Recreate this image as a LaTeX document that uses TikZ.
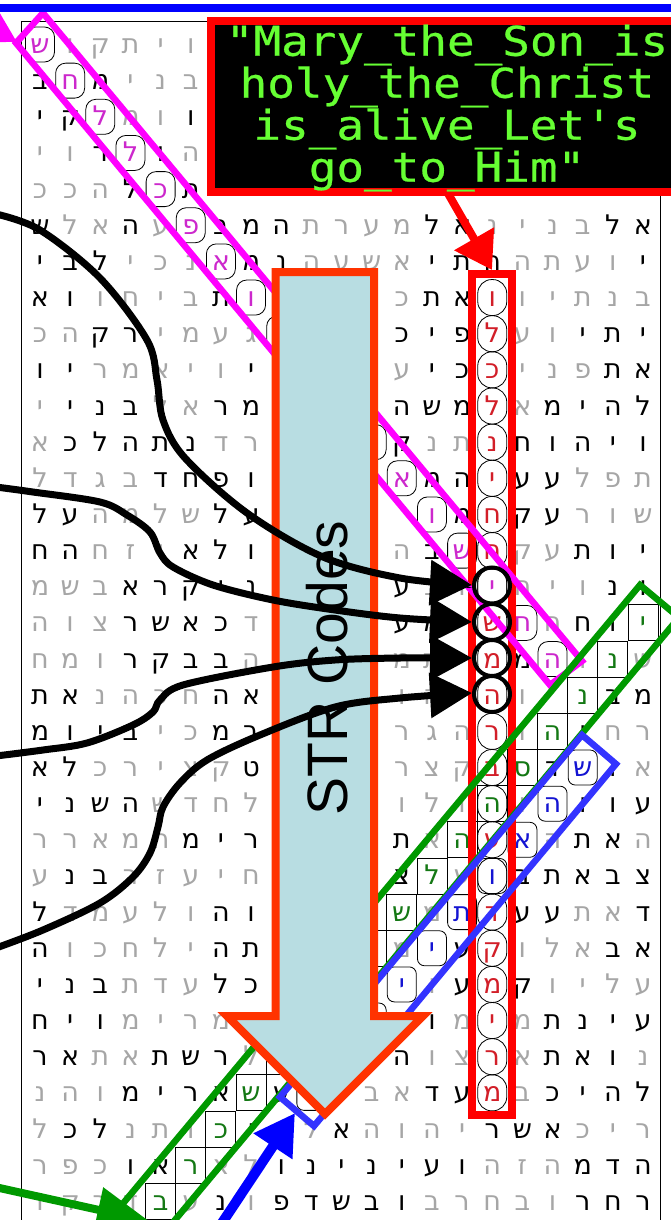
\documentclass[tikz,border=0pt]{standalone}
\usepackage{fontspec}
\usetikzlibrary{arrows.meta}
\newfontfamily\hebfont[Script=Hebrew]{DejaVu Sans}
\newfontfamily\boxfont[FakeBold=0.5]{DejaVu Sans Mono}
\newfontfamily\strfont{Liberation Sans}
\definecolor{wordmag}{RGB}{204,40,204}
\definecolor{wordred}{RGB}{210,30,40}
\definecolor{wordgreen}{RGB}{20,120,20}
\definecolor{wordblue}{RGB}{20,20,210}
\definecolor{rectmag}{RGB}{255,0,255}
\definecolor{rectred}{RGB}{255,0,0}
\definecolor{rectgreen}{RGB}{0,153,0}
\definecolor{rectblue}{RGB}{51,51,255}
\definecolor{arrowblue}{RGB}{0,0,255}
\definecolor{strfill}{RGB}{184,221,226}
\definecolor{strline}{RGB}{255,51,0}
\definecolor{labelgreen}{RGB}{102,255,51}
\newcommand{\D}{\color{black}}
\newcommand{\cM}{\color{wordmag}}
\newcommand{\cR}{\color{wordred}}
\newcommand{\cG}{\color{wordgreen}}
\newcommand{\cB}{\color{wordblue}}
\tikzset{
  letter/.style={font=\hebfont\fontsize{27}{27}\selectfont,text=gray!70,anchor=base,inner sep=0pt,yshift=-9pt},
  magcell/.style={draw=black,line width=0.8pt,rounded corners=10pt,minimum width=29pt,minimum height=35pt,inner sep=0pt},
  ovalcell/.style={draw=black,line width=0.8pt,rounded corners=14pt,minimum width=29pt,minimum height=36pt,inner sep=0pt},
  greencell/.style={draw=black,line width=0.9pt,minimum width=30pt,minimum height=36pt,inner sep=0pt},
  bluecell/.style={draw=black,line width=0.8pt,rounded corners=7pt,minimum width=29pt,minimum height=35pt,inner sep=0pt},
  wordrect/.style={line width=6.5pt,line join=miter},
  blackcurve/.style={line width=7pt,-{Triangle[length=42pt,width=44pt]}},
}
\begin{document}
\begin{tikzpicture}[x=1pt,y=-1pt]
\useasboundingbox (0,0) rectangle (671,1220);
\fill[white] (0,0) rectangle (671,1220);

% frame of the table
\draw[line width=1pt] (21,1220) -- (21,22) -- (671,22);
\draw[line width=1pt] (660,22) -- (660,1220);

% letter table
\begin{scope}[shift={(40pt,-44.5pt)},x=30.15pt,y=-36.15pt]
\foreach \i in {0,...,17}
  \node[magcell] at (\i,\i) {};
\foreach \j in {7,...,29}
  \node[ovalcell] at (15,\j) {};
\foreach \i in {4,...,20}
  \node[greencell] at (\i,36-\i) {};
\foreach \i in {9,...,18}
  \node[bluecell] at (\i,38-\i) {};
\foreach \cells [count=\j from 0] in {
{\cM ש,ו,ק,ת,י,ו},
{\D ב,\cM ח,\D מ,י,נ,ב},
{\D י,\D ק,\cM ל,מ,ו,\D ו},
{י,ו,\D ר,\cM ל,\D ו,ה},
{כ,כ,ה,\D ל,\cM כ,\D ת},
{\D ש,ל,א,\D ה,ע,\cM פ,\D ב,\D מ,\D ה,ת,ר,ע,מ,\D ל,\D א,נ,י,נ,ב,\D ל,\D א},
{\D י,\D ב,\D ל,י,כ,נ,\cM א,\D מ,\D נ,ה,ע,ש,א,\D י,\D ת,\D ה,ה,ת,ע,ו,\D י},
{\D א,\D ו,ו,ח,י,ב,\D ת,\cM ו,,,,,כ,\D ת,\D א,\cR ו,ו,י,ת,נ,ב},
{כ,ה,\D ק,\D ר,י,מ,ע,ג,,,,,\D כ,\D י,\D פ,\cR ל,ע,ו,\D י,\D ת,\D י},
{\D ו,\D י,ר,מ,א,י,ו,\D י,,,,,ע,\D י,\D כ,\cR כ,י,נ,פ,\D ת,\D א},
{י,\D י,\D נ,\D ב,ל,א,\D ר,\D מ,,,,,\D ה,\D ש,\D מ,\cR ל,א,\D מ,\D י,\D ה,\D ל},
{א,\D כ,\D ל,\D ה,\D ת,\D נ,ד,ר,,,,,\D ק,נ,ת,\cR נ,\D ח,\D ו,\D ה,\D י,\D ו},
{ל,ד,ג,ב,\D ד,\D ח,\D פ,\D ו,,,,,\cM א,\D מ,\D ה,\cR י,\D ע,\D ע,ל,פ,ת},
{\D ל,\D ע,ה,מ,ל,ש,\D ל,\D ע,,,,,,\cM ו,\D מ,\cR ח,\D ק,\D ע,ר,ו,ש},
{\D ח,\D ה,ח,ז,י,\D א,\D ל,\D ו,,,,,ה,\D ב,\cM ש,\cR ח,ק,ע,\D ת,\D ו,\D י},
{מ,ש,ב,\D א,\D ר,\D ק,\D י,\D נ,,,,,\D ע,ב,ו,\cM י,ה,י,ו,\D נ,\D ו},
{ה,ו,צ,\D ר,\D ש,\D א,\D כ,ד,,,,,\D ע,\D מ,,\cR ש,\cM ח,ה,\D ח,\D ו,\cG י},
{ח,מ,ו,\D ר,\D ק,\D ב,\D ב,ה,,,,,מ,ת,,\cR מ,\D מ,\cM ה,ו,\cG נ,ש},
{\D ת,\D א,נ,ה,כ,ח,\D ה,\D א,,,,,ו,ה,,\cR ה,ו,,\cG נ,\D ב,\D מ},
{\D מ,\D ו,\D י,\D ב,י,כ,\D מ,\D ב,,,,,ר,ג,ה,\cR ר,ו,\cG ה,\D ו,ח,ר},
{\D א,\D ל,כ,ר,י,צ,ק,\D ט,,,,,ר,צ,ק,\cR ב,\cG ס,\D ד,\cB ש,\D ו,א},
{\D י,\D נ,\D ש,\D ה,ש,ד,ח,ל,,,,,ו,ל,ו,\cG ה,ו,\cB ה,\D ו,\D ו,\D ע},
{ר,ר,א,מ,ה,\D מ,\D י,\D ר,,,,,\D ת,א,\cG ה,\cR ע,\cB א,ה,\D ת,\D א,ה},
{ע,\D נ,\D ב,ר,ז,ע,י,ח,,,,,\D צ,\cG ל,ע,\cB ו,\D ב,\D ת,\D א,\D ב,\D צ},
{\D ל,ד,מ,ע,ל,ו,\D ה,\D ו,,,,,\cG ש,מ,\cB ת,\cR ד,\D ע,\D ע,ת,א,\D ד},
{\D ה,ו,כ,ח,ל,י,\D ה,\D ת,,,,,מ,\cB י,\D ע,\cR ק,ו,ל,א,\D ב,\D א},
{\D י,\D נ,\D ב,ת,ד,ע,\D ל,\D כ,,,,,\cB י,ו,\D ע,\cR מ,\D ק,ו,י,ל,ע},
{\D ח,\D י,\D ו,מ,י,ר,מ,,,,,,,\D ו,מ,\cR י,מ,\D ת,\D נ,\D י,\D ע},
{\D ר,\D א,ת,א,\D ת,\D ש,\D ר,ל,\cG י,,,,\D ה,ו,צ,\cR ר,א,\D ת,\D א,\D ו,נ},
{נ,ה,ו,\D מ,\D י,\D ר,\D א,\cG ש,\D ע,\cB ו,,ב,א,\D ד,\D ע,\cR מ,ב,\D כ,\D י,\D ה,\D ל},
{ל,\D כ,\D ל,נ,ת,ו,\cG כ,\D י,\D ד,ל,\D א,ה,ו,ה,י,\D ר,\D ש,\D א,כ,י,ר},
{ר,פ,כ,\D ו,\D א,\cG ר,א,ל,\D ו,\D נ,\D י,\D נ,\D י,\D ע,\D ו,ה,ז,ה,\D מ,\D ד,\D ה},
{ו,ק,ר,ד,\cG ב,ע,\D נ,ו,\D פ,\D ד,\D ש,\D ב,\D ו,ב,ר,ח,ב,ו,\D ר,\D ח,\D ר}}
  \foreach \ch [count=\i from 0] in \cells
    \node[letter] at (\i,\j) {\ch};
\end{scope}

% word rectangles
\draw[rectred,line width=8pt,line join=miter] (472,274) rectangle (512,1115);
\draw[rectmag,wordrect] (43,13) -- (582,661) -- (550,685) -- (16,43) -- cycle;
\draw[rectgreen,wordrect] (640,585) -- (679,617.5) -- (139,1263) -- (100,1231) -- cycle;
\draw[rectblue,wordrect] (582,735) -- (616,764) -- (314,1126) -- (280,1097) -- cycle;

% arrows into the rectangles
\draw[rectmag,line width=8pt,-{Triangle[length=40pt,width=44pt]}] (-40,10) -- (17,42);
\draw[rectgreen,line width=8pt,-{Triangle[length=52pt,width=44pt]}] (-5,1187) -- (149,1221);
\draw[arrowblue,line width=10pt,-{Triangle[length=40pt,width=44pt]}] (216,1232) -- (295,1113);

% STR arrow
\draw[strline,fill=strfill,line width=8pt,line join=miter] (275.5,272) -- (374,272) -- (374,1016)
  -- (423,1016) -- (325,1114) -- (227,1016) -- (275.5,1016) -- cycle;
\node[rotate=90,font=\strfont\fontsize{57}{57}\selectfont,inner sep=0pt] (strlabel) at (327,668) {STR Codes};

% curves to the marked letters
\draw[blackcurve] plot[smooth,tension=0.55] coordinates {(-4,214) (40,230) (100,278) (147,340) (157,380) (163,420) (185,458) (247,513) (323,557) (400,578) (472,585)};
\draw[blackcurve] plot[smooth,tension=0.55] coordinates {(-4,487) (33,492) (100,502) (127,515) (150,532) (160,553) (173,567) (213,585) (273,600) (335,610) (400,618) (472,622)};
\draw[blackcurve] plot[smooth,tension=0.55] coordinates {(-4,756) (43,750) (87,743) (133,725) (153,712) (160,700) (183,685) (273,667) (335,660) (400,658) (472,658)};
\draw[blackcurve] plot[smooth,tension=0.55] coordinates {(-4,948) (43,930) (100,903) (133,877) (150,853) (158,827) (163,807) (180,783) (207,760) (260,735) (335,707) (400,698) (472,693)};
\foreach \y in {585.5,622,658,694}
  \draw[line width=4pt] (492,\y) circle (18);

% label box
\draw[rectred,line width=8pt,fill=black,line join=miter] (211,21) rectangle (680,192);
\draw[rectred,line width=8pt,-{Triangle[length=36pt,width=44pt]}] (446,190) -- (492,270);
\node[align=center,font=\boxfont\fontsize{41}{42}\selectfont,text=labelgreen,inner sep=0pt,xscale=1.12] (boxlabel) at (447,108)
  {"Mary\_the\_Son\_is\\holy\_the\_Christ\\is\_alive\_Let's\\go\_to\_Him"};

% top line
\fill[arrowblue] (0,4) rectangle (671,12.5);
\end{tikzpicture}
\end{document}
